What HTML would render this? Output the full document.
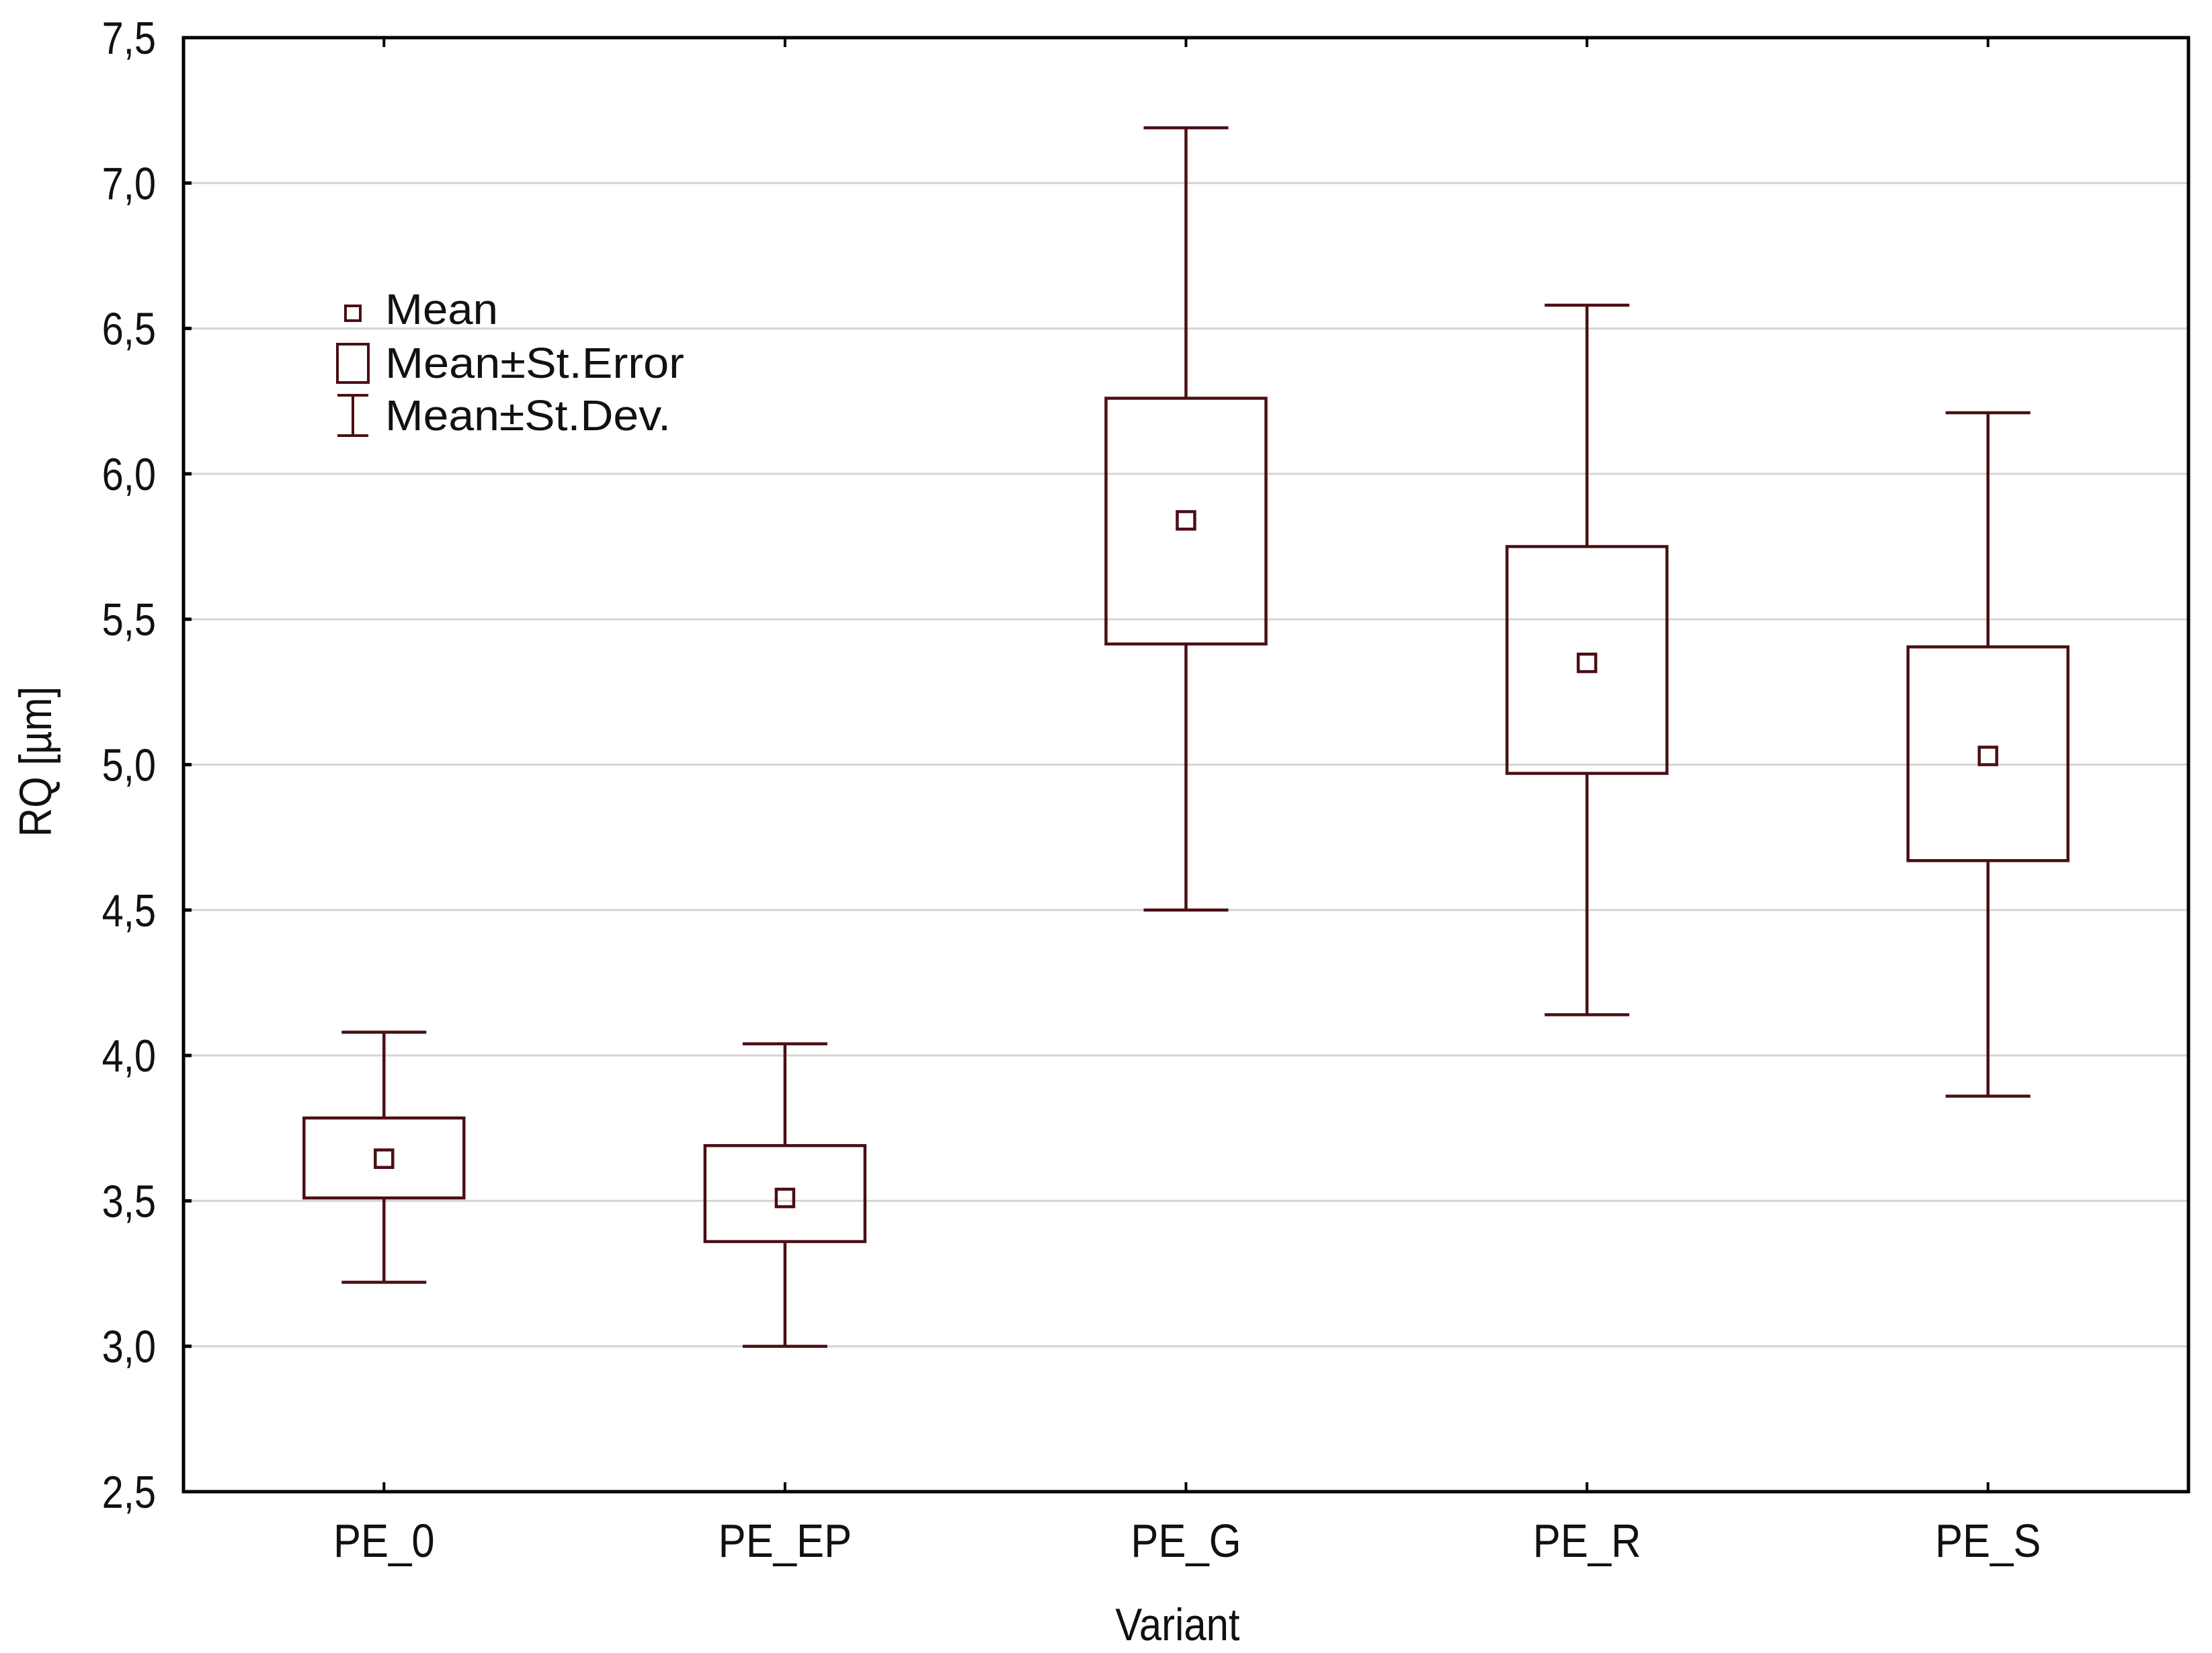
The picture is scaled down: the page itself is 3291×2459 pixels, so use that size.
<!DOCTYPE html>
<html><head><meta charset="utf-8"><style>
html,body{margin:0;padding:0;background:#fff;}
svg{display:block;}
text{font-family:"Liberation Sans",sans-serif;fill:#111;}
</style></head><body>
<svg id="chart" width="3291" height="2459" viewBox="0 0 3291 2459" xmlns="http://www.w3.org/2000/svg">
<rect x="0" y="0" width="3291" height="2459" fill="#fff"/>
<g id="grid"></g>
<g id="marks"></g>
<rect x="273" y="56" width="2983" height="2163" fill="none" stroke="#000" stroke-width="5"/>
<g id="axes"></g>
<text x="1752" y="2440" font-size="68" text-anchor="middle" transform="translate(1752,0) scale(0.88,1) translate(-1752,0)">Variant</text>
<text x="0" y="0" font-size="68" text-anchor="middle" transform="translate(76,1133) rotate(-90) scale(0.88,1)">RQ [µm]</text>
<g>
<rect x="514" y="455" width="22" height="22" fill="none" stroke="#4a0f14" stroke-width="4"/>
<text x="573" y="482" font-size="64" textLength="168" lengthAdjust="spacingAndGlyphs">Mean</text>
<rect x="502" y="512" width="46" height="57" fill="none" stroke="#4a0f14" stroke-width="4"/>
<text x="573" y="562" font-size="64" textLength="445" lengthAdjust="spacingAndGlyphs">Mean±St.Error</text>
<path d="M502 588 H548 M525 588 V648 M502 648 H548" fill="none" stroke="#4a0f14" stroke-width="4"/>
<text x="573" y="640" font-size="64" textLength="425" lengthAdjust="spacingAndGlyphs">Mean±St.Dev.</text>
</g>
</svg>
<script>
const categories = ["PE_0","PE_EP","PE_G","PE_R","PE_S"];
const means = [3.645, 3.51, 5.84, 5.35, 5.03];
const seLow = [3.51, 3.36, 5.415, 4.97, 4.67];
const seHigh = [3.785, 3.69, 6.26, 5.75, 5.405];
const sdLow = [3.22, 3.0, 4.5, 4.14, 3.86];
const sdHigh = [4.08, 4.04, 7.19, 6.58, 6.21];
const yTicks = [2.5, 3.0, 3.5, 4.0, 4.5, 5.0, 5.5, 6.0, 6.5, 7.0, 7.5];
const yTickLabels = ["2,5","3,0","3,5","4,0","4,5","5,0","5,5","6,0","6,5","7,0","7,5"];

const NS = "http://www.w3.org/2000/svg";
const X0 = 273, X1 = 3256, Y0 = 56, Y1 = 2219, YMIN = 2.5, YMAX = 7.5;
function yScale(v){ return Y1 - (v - YMIN) / (YMAX - YMIN) * (Y1 - Y0); }
function xScale(i){ const w = (X1 - X0) / categories.length; return X0 + w * (i + 0.5); }
function mk(tag, attrs, parent){ const e = document.createElementNS(NS, tag); for (const k in attrs) e.setAttribute(k, attrs[k]); parent.appendChild(e); return e; }
const grid = document.getElementById('grid'), marks = document.getElementById('marks'), axes = document.getElementById('axes');
const col = "#4a0f14";

yTicks.forEach((v, i) => {
  const y = yScale(v);
  if (v > YMIN && v < YMAX) {
    const g = mk('line', {x1: X0, x2: X1, y1: y, y2: y, stroke: '#d4d4d4', 'stroke-width': 3}, grid);
    
    
  }
  const t = mk('line', {x1: X0, x2: X0 + 12, y1: y, y2: y, stroke: '#000', 'stroke-width': 5}, axes);
  
  
  const lb = mk('text', {x: 0, y: 0, 'font-size': 68, 'text-anchor': 'end', transform: `translate(232,${y + 24}) scale(0.85,1)`}, axes);
  lb.textContent = yTickLabels[i];
  
  
});

categories.forEach((c, i) => {
  const x = xScale(i);
  const tb = mk('line', {x1: x, x2: x, y1: Y1, y2: Y1 - 14, stroke: '#000', 'stroke-width': 4}, axes);
  
  
  const tt = mk('line', {x1: x, x2: x, y1: Y0, y2: Y0 + 14, stroke: '#000', 'stroke-width': 4}, axes);
  
  
  const lb = mk('text', {x: 0, y: 0, 'font-size': 70, 'text-anchor': 'middle', transform: `translate(${x},2316) scale(0.88,1)`}, axes);
  lb.textContent = c;
  
  

  const g = mk('g', {}, marks);
  
  
  const hw = 119, cw = 63, mw = 13;
  const w = mk('path', {d: `M${x - cw} ${yScale(sdHigh[i])} H${x + cw} M${x} ${yScale(sdHigh[i])} V${yScale(seHigh[i])} M${x} ${yScale(seLow[i])} V${yScale(sdLow[i])} M${x - cw} ${yScale(sdLow[i])} H${x + cw}`, fill: 'none', stroke: col, 'stroke-width': 4.5}, g);
  
  
  const b = mk('rect', {x: x - hw, y: yScale(seHigh[i]), width: 2 * hw, height: yScale(seLow[i]) - yScale(seHigh[i]), fill: 'none', stroke: col, 'stroke-width': 4.5}, g);
  
  
  const m = mk('rect', {x: x - mw, y: yScale(means[i]) - mw, width: 2 * mw, height: 2 * mw, fill: 'none', stroke: col, 'stroke-width': 4.5}, g);
  
  
});
</script>
</body></html>
